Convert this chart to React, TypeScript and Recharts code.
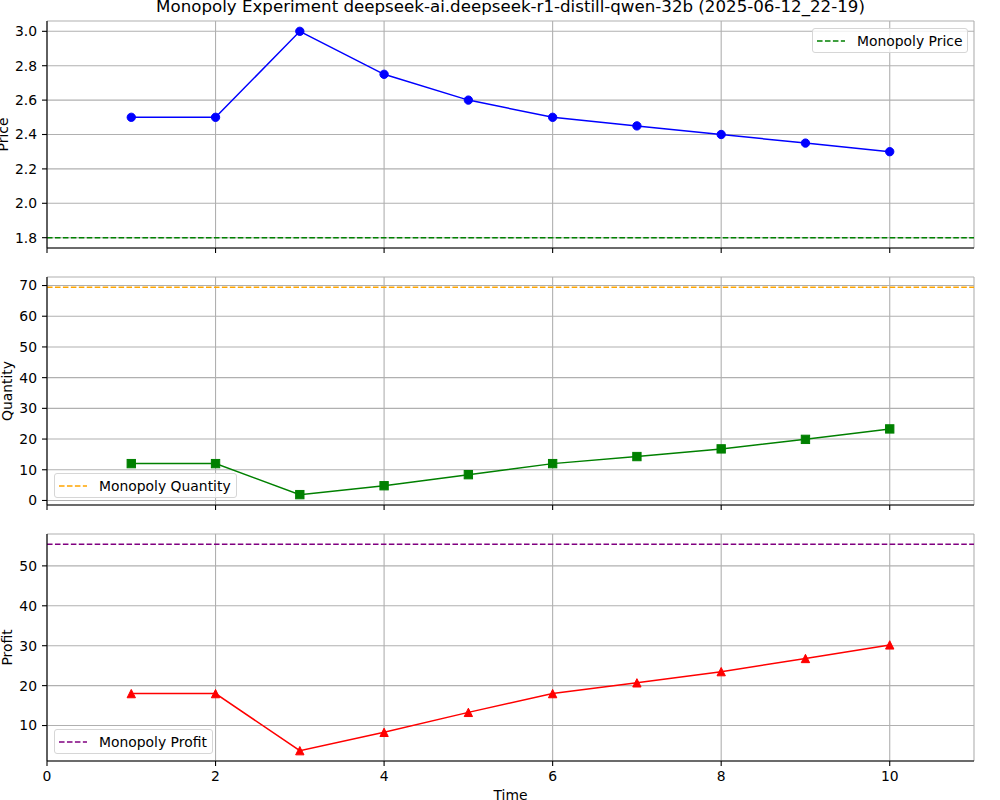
import React from "react";
import {
  LineChart,
  Line,
  XAxis,
  YAxis,
  CartesianGrid,
  ReferenceLine,
  Legend,
} from "recharts";

const FONT = "'DejaVu Sans', sans-serif";

const time = [1, 2, 3, 4, 5, 6, 7, 8, 9, 10];
const price = [2.5, 2.5, 3.0, 2.75, 2.6, 2.5, 2.45, 2.4, 2.35, 2.3];
const quantity = [12, 12, 1.9, 4.8, 8.4, 12, 14.3, 16.8, 19.9, 23.3];
const profit = [18, 18, 3.7, 8.3, 13.3, 18, 20.7, 23.5, 26.8, 30.2];

const monopolyPrice = 1.8;
const monopolyQuantity = 69.4;
const monopolyProfit = 55.4;

const xTicks = [0, 2, 4, 6, 8, 10];
const priceTicks = [1.8, 2.0, 2.2, 2.4, 2.6, 2.8, 3.0];
const quantityTicks = [0, 10, 20, 30, 40, 50, 60, 70];
const profitTicks = [10, 20, 30, 40, 50];

const TITLE =
  "Monopoly Experiment deepseek-ai.deepseek-r1-distill-qwen-32b (2025-06-12_22-19)";

// matplotlib-like 5% margins around the data
function padDomain(values: number[]): [number, number] {
  const lo = Math.min(...values);
  const hi = Math.max(...values);
  const pad = (hi - lo) * 0.05;
  return [lo - pad, hi + pad];
}

const MS = 4.17;

const circleDot = (props: any) => {
  const { cx, cy, index } = props;
  if (cx == null || cy == null) return <g key={index} />;
  return <circle key={index} cx={cx} cy={cy} r={MS} fill="#0000ff" stroke="#0000ff" strokeWidth={1} />;
};

const squareDot = (props: any) => {
  const { cx, cy, index } = props;
  if (cx == null || cy == null) return <g key={index} />;
  return (
    <rect key={index} x={cx - MS} y={cy - MS} width={MS * 2} height={MS * 2} fill="#008000" stroke="#008000" strokeWidth={1} />
  );
};

const triangleDot = (props: any) => {
  const { cx, cy, index } = props;
  if (cx == null || cy == null) return <g key={index} />;
  const pts = `${cx},${cy - MS} ${cx - MS},${cy + MS} ${cx + MS},${cy + MS}`;
  return <polygon key={index} points={pts} fill="#ff0000" stroke="#ff0000" strokeWidth={1} />;
};

function YTitle(props: any) {
  const { viewBox, text, baseX } = props;
  const cy = viewBox.y + viewBox.height / 2;
  return (
    <text
      x={baseX}
      y={cy}
      transform={`rotate(-90, ${baseX}, ${cy})`}
      textAnchor="middle"
      fontSize={13.9}
      fontFamily={FONT}
      fill="#000"
    >
      {text}
    </text>
  );
}

function LegendBox({ label, color }: { label: string; color: string }) {
  return (
    <div
      style={{
        display: "flex",
        alignItems: "center",
        height: 25,
        boxSizing: "border-box",
        border: "1px solid #d6d6d6",
        borderRadius: 3,
        background: "rgba(255,255,255,0.8)",
        padding: "0 5px 0 4px",
        fontFamily: FONT,
        fontSize: 13.9,
        color: "#000",
        whiteSpace: "nowrap",
      }}
    >
      <svg width={28} height={6} style={{ display: "block" }}>
        <line x1={0} y1={3} x2={28} y2={3} stroke={color} strokeWidth={1.5} strokeDasharray="5.55 2.4" />
      </svg>
      <span style={{ marginLeft: 12 }}>{label}</span>
    </div>
  );
}

interface PanelProps {
  top: number;
  height: number;
  marginTop: number;
  xAxisHeight: number;
  values: number[];
  name: string;
  color: string;
  dot: (p: any) => React.ReactElement;
  refValue: number;
  refColor: string;
  yTicks: number[];
  yLabel: string;
  labelX: number;
  legendLabel: string;
  legendLeft: number;
  legendTop: number;
  showXLabels: boolean;
  fmt: (v: number) => string;
}

function Panel(p: PanelProps) {
  const data = time.map((t, i) => ({ time: t, value: p.values[i] }));
  const yDomain = padDomain([...p.values, p.refValue]);
  const tickStyle = { fontSize: 13.9, fill: "#000", fontFamily: FONT };
  return (
    <div style={{ position: "absolute", left: 0, top: p.top }}>
      <LineChart
        width={1000}
        height={p.height}
        data={data}
        margin={{ top: p.marginTop, right: 26, bottom: 0, left: 7 }}
      >
        <CartesianGrid stroke="#b0b0b0" strokeWidth={1.1} />
        <XAxis
          dataKey="time"
          type="number"
          domain={[0, 11]}
          ticks={xTicks}
          height={p.xAxisHeight}
          stroke="#000"
          strokeWidth={1.1}
          tickSize={5}
          tickMargin={5}
          tick={tickStyle}
          tickFormatter={p.showXLabels ? (v: number) => String(v) : () => ""}
          label={
            p.showXLabels
              ? { value: "Time", position: "insideBottom", offset: 0, fontSize: 13.9, fill: "#000", fontFamily: FONT }
              : undefined
          }
        />
        <XAxis
          xAxisId="top"
          orientation="top"
          type="number"
          domain={[0, 11]}
          height={0}
          tick={false}
          tickLine={false}
          stroke="#000"
          strokeWidth={1.1}
        />
        <YAxis
          type="number"
          domain={yDomain}
          allowDataOverflow
          ticks={p.yTicks}
          width={40}
          stroke="#000"
          strokeWidth={1.1}
          tickSize={5}
          tickMargin={5}
          tick={tickStyle}
          tickFormatter={p.fmt}
          label={<YTitle text={p.yLabel} baseX={p.labelX} />}
        />
        <YAxis
          yAxisId="right"
          orientation="right"
          type="number"
          domain={yDomain}
          width={0}
          tick={false}
          tickLine={false}
          stroke="#000"
          strokeWidth={1.1}
        />
        <Line
          type="linear"
          dataKey="value"
          name={p.name}
          stroke={p.color}
          strokeWidth={1.5}
          dot={p.dot}
          activeDot={false}
          isAnimationActive={false}
        />
        <ReferenceLine
          y={p.refValue}
          stroke={p.refColor}
          strokeWidth={1.5}
          strokeDasharray="5.55 2.4"
        />
        <Legend
          layout="vertical"
          align="center"
          verticalAlign="middle"
          wrapperStyle={{ left: p.legendLeft, top: p.legendTop, width: "auto", height: "auto" }}
          content={() => <LegendBox label={p.legendLabel} color={p.refColor} />}
        />
      </LineChart>
    </div>
  );
}

export default function App() {
  return (
    <div
      style={{
        position: "absolute",
        left: 0,
        top: 0,
        width: 1000,
        height: 800,
        overflow: "hidden",
        background: "#fff",
        fontFamily: FONT,
      }}
    >
      <Panel
        top={0}
        height={260}
        marginTop={21}
        xAxisHeight={12}
        values={price}
        name="Price"
        color="#0000ff"
        dot={circleDot}
        refValue={monopolyPrice}
        refColor="#008000"
        yTicks={priceTicks}
        yLabel="Price"
        labelX={7.6}
        legendLabel="Monopoly Price"
        legendLeft={812}
        legendTop={28}
        showXLabels={false}
        fmt={(v) => v.toFixed(1)}
      />
      <Panel
        top={260}
        height={260}
        marginTop={17}
        xAxisHeight={15}
        values={quantity}
        name="Quantity"
        color="#008000"
        dot={squareDot}
        refValue={monopolyQuantity}
        refColor="#ffa500"
        yTicks={quantityTicks}
        yLabel="Quantity"
        labelX={12}
        legendLabel="Monopoly Quantity"
        legendLeft={54}
        legendTop={213}
        showXLabels={false}
        fmt={(v) => String(v)}
      />
      <Panel
        top={520}
        height={280}
        marginTop={14}
        xAxisHeight={39}
        values={profit}
        name="Profit"
        color="#ff0000"
        dot={triangleDot}
        refValue={monopolyProfit}
        refColor="#800080"
        yTicks={profitTicks}
        yLabel="Profit"
        labelX={12}
        legendLabel="Monopoly Profit"
        legendLeft={54}
        legendTop={209}
        showXLabels={true}
        fmt={(v) => String(v)}
      />
      <div
        style={{
          position: "absolute",
          left: 47,
          width: 927,
          top: -3,
          textAlign: "center",
          fontSize: 16.67,
          fontFamily: FONT,
          color: "#000",
          whiteSpace: "nowrap",
        }}
      >
        {TITLE}
      </div>
    </div>
  );
}
